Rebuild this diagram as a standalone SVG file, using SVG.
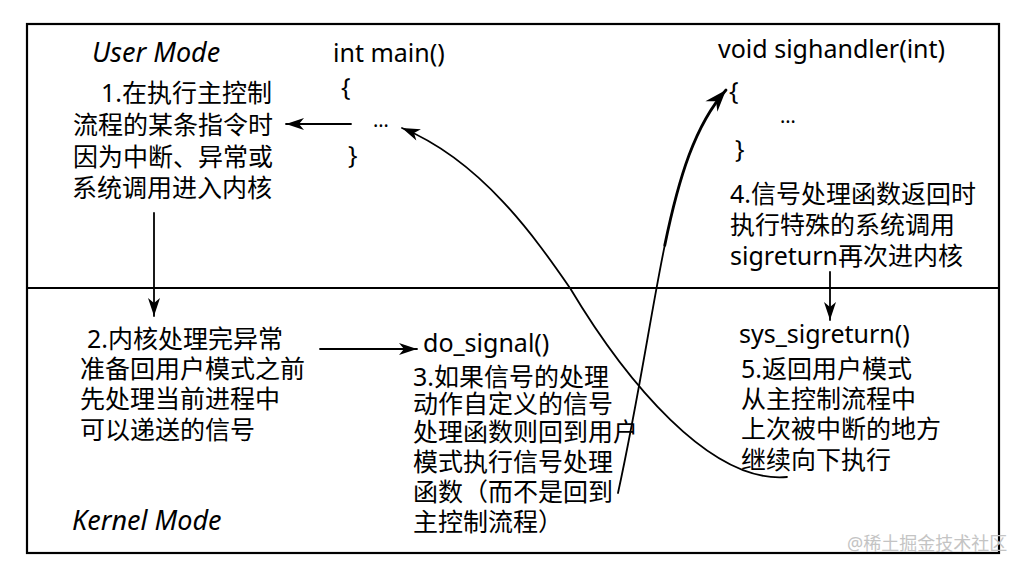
<svg xmlns="http://www.w3.org/2000/svg" width="1026" height="571" viewBox="0 0 1026 571">
<style>
.t{font-family:"Noto Sans","Noto Sans CJK SC",sans-serif;font-size:25px;fill:#000}
.i{font-family:"Noto Sans","Noto Sans CJK SC",sans-serif;font-size:27px;font-style:italic;fill:#000}
.d{font-family:"Noto Sans",sans-serif;font-size:20px;fill:#000}
.w{font-family:"Noto Sans","Noto Sans CJK SC",sans-serif;font-size:18px;fill:#c4c4c4}
.ln{fill:none;stroke:#000;stroke-width:1.8;stroke-linecap:round}
</style>
<defs>
<marker id="ah" markerUnits="userSpaceOnUse" viewBox="-19 -7 20 14" markerWidth="20" markerHeight="14" refX="0" refY="0" orient="auto">
<path d="M0,0 L-18,-6 L-13,0 L-18,6 Z" fill="#000"/>
</marker>
<marker id="ahb" markerUnits="userSpaceOnUse" viewBox="-23 -9 24 18" markerWidth="24" markerHeight="18" refX="0" refY="0" orient="auto">
<path d="M0,0 L-22,-8 L-15,0 L-22,8 Z" fill="#000"/>
</marker>
</defs>
<rect x="0" y="0" width="1026" height="571" fill="#fff"/>
<g id="frame">
<rect x="27" y="24" width="972" height="529" fill="none" stroke="#000" stroke-width="2.2"/>
<line x1="27" y1="288" x2="999" y2="288" stroke="#000" stroke-width="2"/>
</g>
<g id="mode-labels">
<text class="i" x="92" y="62">User Mode</text>
<text class="i" x="72" y="530">Kernel Mode</text>
</g>
<g id="main-func">
<text class="t" x="333" y="62">int main()</text>
<text class="t" x="341" y="96">{</text>
<text class="d" x="373" y="127">…</text>
<text class="t" x="348" y="164">}</text>
</g>
<g id="step1">
<text class="t"><tspan x="101" y="102">1.在执行主控制</tspan><tspan x="73" y="134">流程的某条指令时</tspan><tspan x="73" y="166">因为中断、异常或</tspan><tspan x="72" y="197">系统调用进入内核</tspan></text>
</g>
<g id="step2">
<text class="t"><tspan x="87" y="348">2.内核处理完异常</tspan><tspan x="80" y="378">准备回用户模式之前</tspan><tspan x="80" y="408">先处理当前进程中</tspan><tspan x="80" y="439">可以递送的信号</tspan></text>
</g>
<g id="do-signal">
<text class="t" x="423" y="352">do_signal()</text>
</g>
<g id="step3">
<text class="t"><tspan x="413" y="386">3.如果信号的处理</tspan><tspan x="413" y="413">动作自定义的信号</tspan><tspan x="413" y="441">处理函数则回到用户</tspan><tspan x="413" y="471">模式执行信号处理</tspan><tspan x="413" y="501">函数（而不是回到</tspan><tspan x="413" y="531">主控制流程）</tspan></text>
</g>
<g id="sighandler">
<text class="t" x="718" y="58">void sighandler(int)</text>
<text class="t" x="729" y="100">{</text>
<text class="d" x="780" y="123">…</text>
<text class="t" x="735" y="158">}</text>
</g>
<g id="step4">
<text class="t"><tspan x="730" y="203">4.信号处理函数返回时</tspan><tspan x="730" y="234">执行特殊的系统调用</tspan><tspan x="730" y="265">sigreturn再次进内核</tspan></text>
</g>
<g id="sys-sigreturn">
<text class="t" x="739" y="343">sys_sigreturn()</text>
</g>
<g id="step5">
<text class="t"><tspan x="741" y="378">5.返回用户模式</tspan><tspan x="741" y="408">从主控制流程中</tspan><tspan x="741" y="438">上次被中断的地方</tspan><tspan x="741" y="469">继续向下执行</tspan></text>
</g>
<g id="connectors">
<line class="ln" x1="351" y1="124" x2="286" y2="124" marker-end="url(#ah)"/>
<line class="ln" x1="154" y1="213" x2="154" y2="316" marker-end="url(#ah)"/>
<line class="ln" x1="320" y1="349" x2="417" y2="349" marker-end="url(#ah)"/>
<line class="ln" x1="830" y1="272" x2="830" y2="320" marker-end="url(#ah)"/>
<path class="ln" d="M787,477 C710,484 625,380 570,288 C536,239 482,161 402,128" marker-end="url(#ah)"/>
<path class="ln" d="M618,493 C639,396.5 650.75,313.25 664.75,245.4"/>
<path class="ln" style="stroke-width:2.8" d="M664.75,245.4 C678.75,177.5 695,125 726,90" marker-end="url(#ahb)"/>
</g>
<g id="watermark">
<text class="w" x="847" y="550">@稀土掘金技术社区</text>
</g>
</svg>
